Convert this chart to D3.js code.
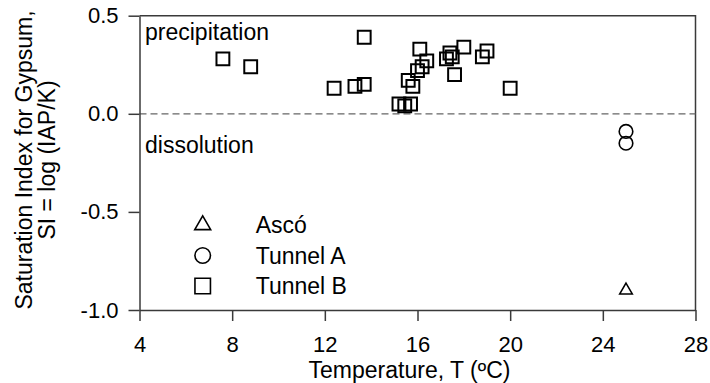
<!DOCTYPE html>
<html>
<head>
<meta charset="utf-8">
<script src="https://cdn.jsdelivr.net/npm/d3@7"></script>
<style>
  body { margin: 0; background: #fff; }
  svg { display: block; font-family: "Liberation Sans", Arial, sans-serif; }
</style>
</head>
<body>
<div id="chart"></div>
<script>
/**
 * Data.
 */
const xTicks = [4, 8, 12, 16, 20, 24, 28];
const yTicks = [-1.0, -0.5, 0.0, 0.5];

const ascoT = [25.0];
const ascoSI = [-0.90];

const tunnelAT = [25.0, 25.0];
const tunnelASI = [-0.09, -0.15];

const tunnelBT = [7.6, 8.8, 12.4, 13.3, 13.7, 13.7, 15.2, 15.45, 15.7, 15.6, 15.8, 16.0, 16.2, 16.4, 16.1,
  17.25, 17.4, 17.5, 18.0, 17.6, 18.8, 19.0, 20.0];
const tunnelBSI = [0.28, 0.24, 0.13, 0.14, 0.15, 0.39, 0.05, 0.04, 0.05, 0.17, 0.14, 0.22, 0.24, 0.27, 0.33,
  0.28, 0.31, 0.29, 0.34, 0.20, 0.29, 0.32, 0.13];

const seriesNames = ["Ascó", "Tunnel A", "Tunnel B"];

/**
 * Layout.
 */
const width = 710;
const height = 383;
const plotLeft = 139.5, plotRight = 695.5, plotTop = 15.7, plotBottom = 310;
const axisColor = "#3a3a3a";
const tickFont = 22;
const textFont = "23px";

const x = d3.scaleLinear().domain([4, 28]).range([plotLeft, plotRight]);
const y = d3.scaleLinear().domain([-1, 0.5]).range([plotBottom, plotTop]);

const zip = (xs, ys) => xs.map((v, i) => ({ t: v, si: ys[i] }));

const svg = d3.select("#chart")
  .append("svg")
    .attr("width", width)
    .attr("height", height);

// frame (top + right)
svg.append("path")
  .attr("d", `M${plotLeft},${plotTop} H${plotRight} V${plotBottom}`)
  .attr("fill", "none")
  .attr("stroke", axisColor)
  .attr("stroke-width", 1.5);

// zero line
svg.append("line")
  .attr("x1", plotLeft).attr("x2", plotRight)
  .attr("y1", y(0)).attr("y2", y(0))
  .attr("stroke", "#666")
  .attr("stroke-width", 1.2)
  .attr("stroke-dasharray", "7,4");

/**
 * Axes.
 */
const styleAxis = (g) => {
  g.select(".domain").attr("stroke", axisColor).attr("stroke-width", 1.5);
  g.selectAll(".tick line").attr("stroke", axisColor).attr("stroke-width", 1.5);
  g.selectAll(".tick text")
    .attr("fill", "#000")
    .style("font-size", tickFont + "px")
    .style("font-family", "Liberation Sans, Arial, sans-serif");
};

svg.append("g")
  .attr("transform", `translate(0,${plotBottom})`)
  .call(d3.axisBottom(x).tickValues(xTicks).tickSize(11).tickPadding(15).tickSizeOuter(0))
  .call(styleAxis);

svg.append("g")
  .attr("transform", `translate(${plotLeft},0)`)
  .call(d3.axisLeft(y).tickValues(yTicks).tickSize(11).tickPadding(10).tickSizeOuter(0)
    .tickFormat(d => d3.format(".1f")(d).replace("−", "-")))
  .call(styleAxis);

// axis titles
svg.append("text")
  .attr("x", (plotLeft + plotRight) / 2 - 8)
  .attr("y", 378)
  .attr("text-anchor", "middle")
  .style("font-size", textFont)
  .text("Temperature, T (ºC)");

const yTitle = svg.append("g")
  .attr("transform", "translate(0,160) rotate(-90)")
  .attr("text-anchor", "middle")
  .style("font-size", textFont);
yTitle.append("text").attr("x", 0).attr("y", 32).text("Saturation Index for Gypsum,");
yTitle.append("text").attr("x", 0).attr("y", 55).text("SI = log (IAP/K)");

// region labels
svg.append("text").attr("x", 145).attr("y", 40).style("font-size", textFont).text("precipitation");
svg.append("text").attr("x", 145).attr("y", 153).style("font-size", textFont).text("dissolution");

/**
 * Points.
 */
const symbolFor = [d3.symbolTriangle, d3.symbolCircle, d3.symbolSquare];
const plotSize = [70, 145, 165];
const plotStroke = [1.5, 1.6, 2];
const seriesData = [zip(ascoT, ascoSI), zip(tunnelAT, tunnelASI), zip(tunnelBT, tunnelBSI)];

seriesData.forEach((data, k) => {
  svg.append("g")
    .selectAll("path")
    .data(data)
    .enter().append("path")
      .attr("d", d3.symbol().type(symbolFor[k]).size(plotSize[k]))
      .attr("transform", d => `translate(${x(d.t)},${y(d.si)})`)
      .attr("fill", "none")
      .attr("stroke", "#000")
      .attr("stroke-width", plotStroke[k]);
});

/**
 * Legend.
 */
const legendSize = [110, 190, 240];
const legendY = [225, 255.5, 286];
const legend = svg.append("g")
  .selectAll("g")
  .data(seriesNames)
  .enter().append("g")
    .attr("transform", (d, i) => `translate(202.7,${legendY[i]})`);

legend.append("path")
  .attr("d", (d, i) => d3.symbol().type(symbolFor[i]).size(legendSize[i])())
  .attr("fill", "none")
  .attr("stroke", "#000")
  .attr("stroke-width", 1.6);

legend.append("text")
  .attr("x", 53)
  .attr("dy", "0.35em")
  .style("font-size", textFont)
  .text(d => d);
</script>
</body>
</html>
